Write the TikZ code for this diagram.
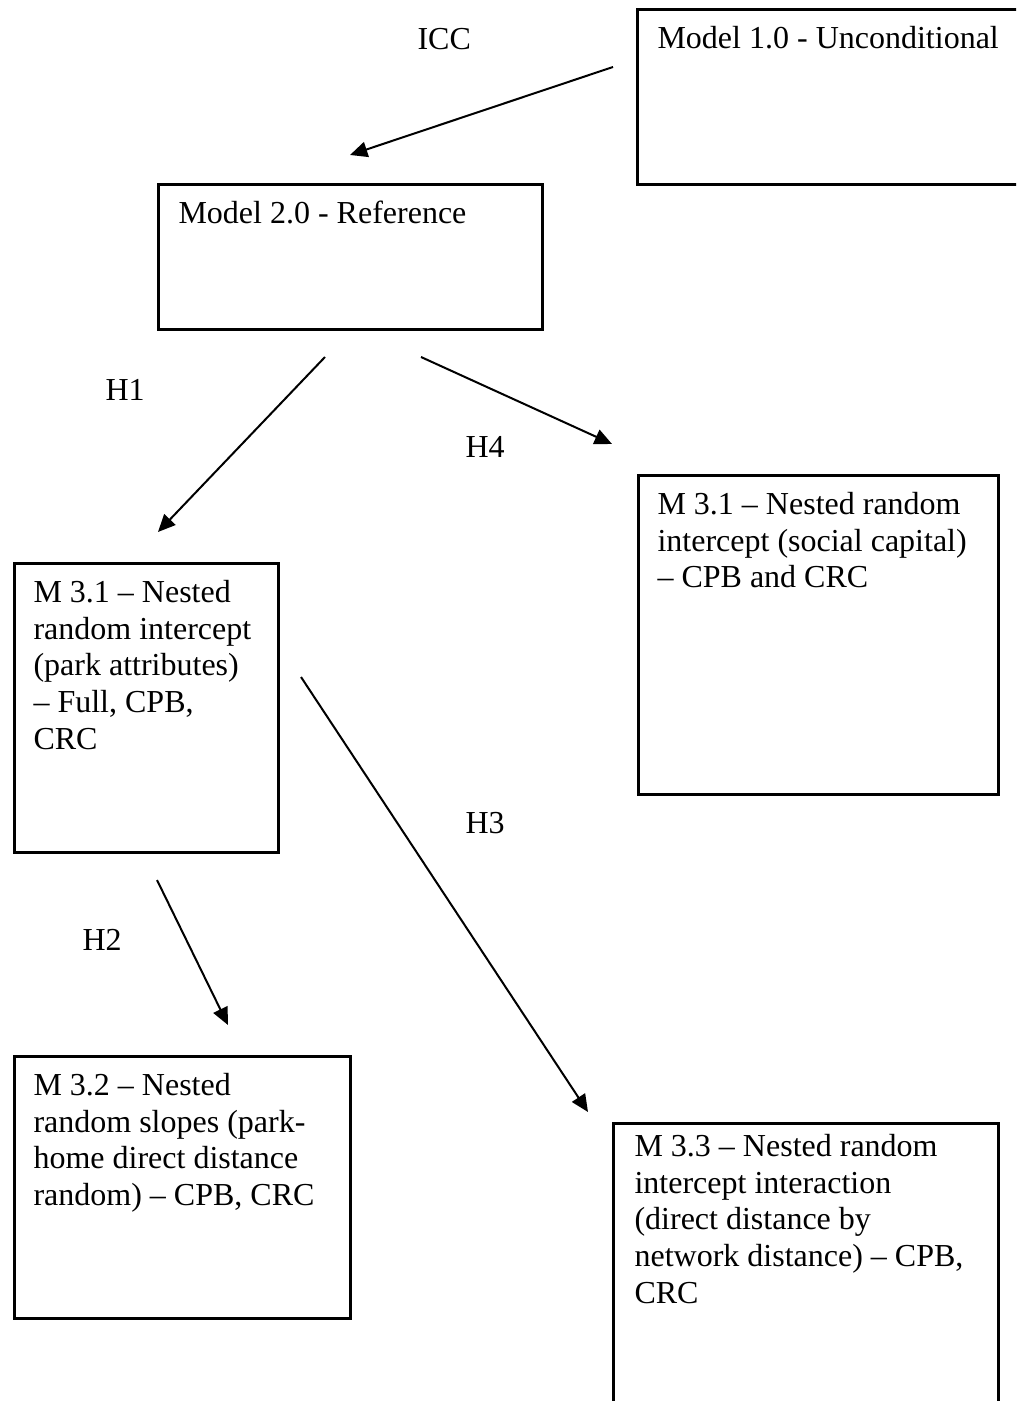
\documentclass[tikz,border=0pt]{standalone}
\usepackage{fontspec}
\setmainfont{Liberation Serif}
\usetikzlibrary{arrows.meta}
\begin{document}
\begin{tikzpicture}[x=0.375pt,y=-0.375pt,
  box/.style={draw, line width=0.95pt, anchor=north west, inner sep=0pt},
  txt/.style={anchor=north west, inner sep=0pt, align=left,
              font=\fontsize{12pt}{13.8pt}\selectfont},
  lbl/.style={anchor=base west, inner sep=0pt,
              font=\fontsize{12pt}{13.8pt}\selectfont},
  link/.style={line width=0.75pt, -{Triangle[length=6.5pt,width=5.8pt]}}]
\clip (0,0) rectangle (1016,1401);

% model boxes
\node[box, minimum width={394*0.375pt}, minimum height={175*0.375pt}] (m10) at (636,8) {};
\node[box, minimum width={384*0.375pt}, minimum height={145*0.375pt}] (m20) at (157,183) {};
\node[box, minimum width={264*0.375pt}, minimum height={289*0.375pt}] (m31a) at (13,562) {};
\node[box, minimum width={360*0.375pt}, minimum height={319*0.375pt}] (m31b) at (637,474) {};
\node[box, minimum width={336*0.375pt}, minimum height={262*0.375pt}] (m32) at (13,1055) {};
\node[box, minimum width={385*0.375pt}, minimum height={300*0.375pt}] (m33) at (612,1122) {};

% box texts
\node[txt] (t10) at (657,22) {\strut Model 1.0 - Unconditional};
\node[txt] (t20) at (178,197) {\strut Model 2.0 - Reference};
\node[txt] (t31a) at (33,576) {\strut M 3.1 -- Nested\\random intercept\\(park attributes)\\-- Full, CPB,\\CRC};
\node[txt] (t31b) at (657,488) {\strut M 3.1 -- Nested random\\intercept (social capital)\\-- CPB and CRC};
\node[txt] (t32) at (33,1069) {\strut M 3.2 -- Nested\\random slopes (park-\\home direct distance\\random) -- CPB, CRC};
\node[txt] (t33) at (634,1130) {\strut M 3.3 -- Nested random\\intercept interaction\\(direct distance by\\network distance) -- CPB,\\CRC};

% hypothesis labels
\node[lbl] (icc) at (417,50) {ICC};
\node[lbl] (h1) at (105,400) {H1};
\node[lbl] (h4) at (465,457) {H4};
\node[lbl] (h3) at (465,833) {H3};
\node[lbl] (h2) at (82,950) {H2};

% arrow end points
\coordinate (iccS) at (613,67);  \coordinate (iccE) at (350,155);
\coordinate (h1S) at (325,357);  \coordinate (h1E) at (158,532);
\coordinate (h4S) at (421,357);  \coordinate (h4E) at (612,444);
\coordinate (h2S) at (157,880);  \coordinate (h2E) at (228,1025);
\coordinate (h3S) at (301,677);  \coordinate (h3E) at (588,1112);

\draw[link] (iccS) -- (iccE);
\draw[link] (h1S) -- (h1E);
\draw[link] (h4S) -- (h4E);
\draw[link] (h2S) -- (h2E);
\draw[link] (h3S) -- (h3E);
\end{tikzpicture}
\end{document}
